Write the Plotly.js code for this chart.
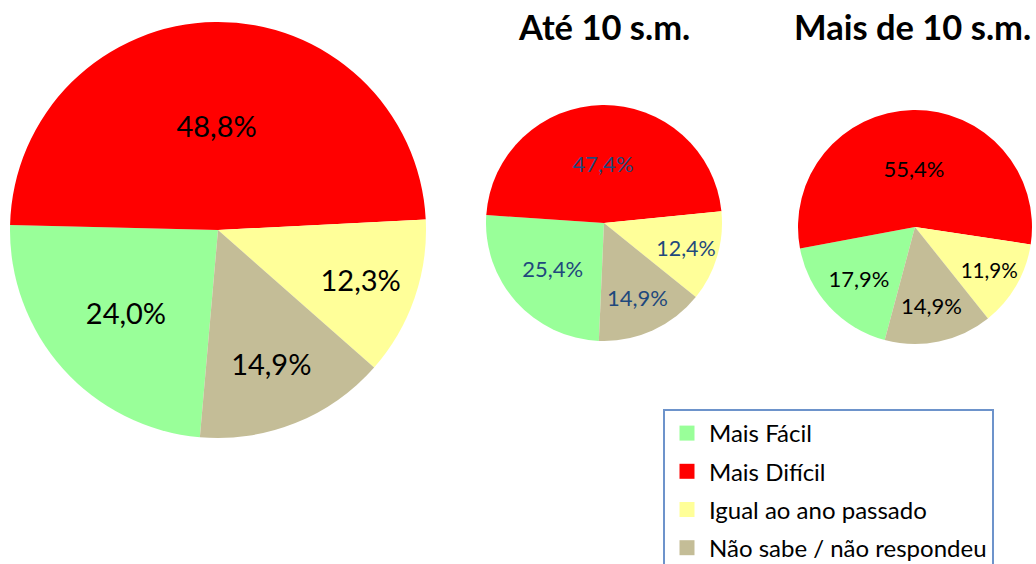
<!DOCTYPE html>
<html>
<head>
<meta charset="utf-8">
<script src="https://cdn.plot.ly/plotly-3.0.1.min.js"></script>
<style>
  html, body { margin: 0; padding: 0; background: #ffffff; }
  #chart { width: 1036px; height: 564px; }
</style>
</head>
<body>
<div id="chart"></div>
<script>
// ---- Data ----
var categories = ['Mais Fácil', 'Mais Difícil', 'Igual ao ano passado', 'Não sabe / não respondeu'];
var colors = ['#99FF99', '#FF0000', '#FFFF99', '#C4BD97'];
var totalValues = [24.0, 48.8, 12.3, 14.9];
var ate10Values = [25.4, 47.4, 12.4, 14.9];
var mais10Values = [17.9, 55.4, 11.9, 14.9];
var panelTitles = ['Até 10 s.m.', 'Mais de 10 s.m.'];

function fmt(values) {
  return values.map(function (v) { return v.toFixed(1).replace('.', ',') + '%'; });
}

var W = 1036, H = 564;
function dom(cx, cy, r) {
  return {
    x: [(cx - r) / W, (cx + r) / W],
    y: [(H - cy - r) / H, (H - cy + r) / H]
  };
}

function pieTrace(values, domain, rotation, fontSize, fontColor) {
  return {
    type: 'pie',
    labels: categories,
    values: values,
    text: fmt(values),
    textinfo: 'text',
    textposition: 'inside',
    insidetextorientation: 'horizontal',
    textfont: { family: 'Lato, sans-serif', size: fontSize, color: fontColor },
    marker: { colors: colors, line: { width: 0 } },
    sort: false,
    direction: 'clockwise',
    rotation: rotation,
    domain: domain,
    showlegend: false,
    hoverinfo: 'label+text'
  };
}

var traces = [
  pieTrace(totalValues, dom(218, 230, 208), 185, 29, '#000000'),
  pieTrace(ate10Values, dom(604, 223, 118), 182.5, 22, '#1F497D'),
  pieTrace(mais10Values, dom(915, 227, 117), 195, 22, '#000000')
];

// legend entries (one per category)
categories.forEach(function (c, i) {
  traces.push({
    type: 'scatter',
    mode: 'markers',
    x: [null], y: [null],
    name: c,
    legendgroup: 'g' + i,
    marker: { symbol: 'square', size: 15, color: colors[i] },
    showlegend: true,
    hoverinfo: 'skip'
  });
});

var layout = {
  width: W,
  height: H,
  margin: { l: 0, r: 0, t: 0, b: 0, autoexpand: false },
  paper_bgcolor: '#ffffff',
  plot_bgcolor: 'rgba(0,0,0,0)',
  font: { family: 'Lato, sans-serif', color: '#000000' },
  xaxis: { visible: false },
  yaxis: { visible: false },
  showlegend: true,
  legend: {
    x: 663 / W, xanchor: 'left',
    y: (H - 409) / H, yanchor: 'top',
    bordercolor: '#6D93CB',
    borderwidth: 2,
    bgcolor: '#ffffff',
    itemwidth: 34,
    font: { family: 'Lato, sans-serif', size: 24, color: '#000000' },
    tracegroupgap: 4,
    itemclick: false,
    itemdoubleclick: false
  },
  annotations: [
    { text: '<b>' + panelTitles[0] + '</b>', xref: 'paper', yref: 'paper',
      x: 604 / W, y: (H - 26) / H, xanchor: 'center', yanchor: 'middle',
      showarrow: false, font: { family: 'Lato, sans-serif', size: 34.5, color: '#000000' } },
    { text: '<b>' + panelTitles[1] + '</b>', xref: 'paper', yref: 'paper',
      x: 912 / W, y: (H - 26) / H, xanchor: 'center', yanchor: 'middle',
      showarrow: false, font: { family: 'Lato, sans-serif', size: 34.5, color: '#000000' } }
  ]
};

Plotly.newPlot('chart', traces, layout, { displayModeBar: false });
</script>
</body>
</html>
